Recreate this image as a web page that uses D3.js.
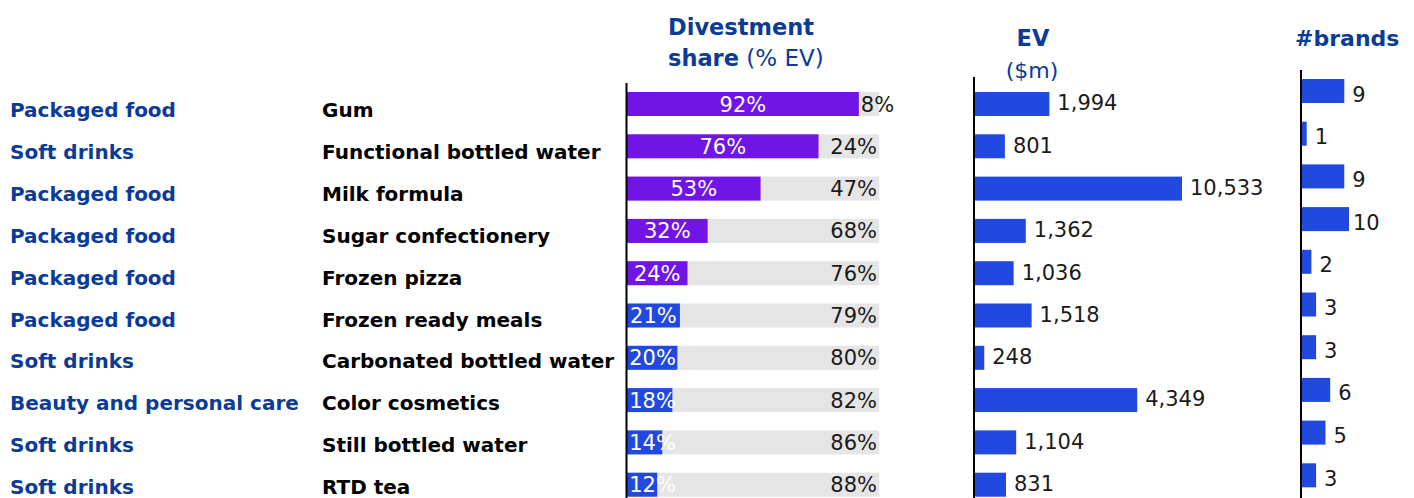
<!DOCTYPE html>
<html>
<head>
<meta charset="utf-8">
<script src="https://cdn.jsdelivr.net/npm/d3@7"></script>
<style>
  html, body { margin: 0; padding: 0; background: #fff; }
  svg { display: block; }
  text { font-family: "DejaVu Sans", "Liberation Sans", sans-serif; }
</style>
</head>
<body>
<svg id="chart" width="1414" height="498"></svg>
<script>
// Segment / product rows
const categories = [
  "Packaged food", "Soft drinks", "Packaged food", "Packaged food", "Packaged food",
  "Packaged food", "Soft drinks", "Beauty and personal care", "Soft drinks", "Soft drinks"
];
const products = [
  "Gum", "Functional bottled water", "Milk formula", "Sugar confectionery", "Frozen pizza",
  "Frozen ready meals", "Carbonated bottled water", "Color cosmetics", "Still bottled water", "RTD tea"
];
// Divestment share of EV (%)
const divestShare = [92, 76, 53, 32, 24, 21, 20, 18, 14, 12];
// Enterprise value ($m)
const evValues = [1994, 801, 10533, 1362, 1036, 1518, 248, 4349, 1104, 831];
// Number of brands
const brandCounts = [9, 1, 9, 10, 2, 3, 3, 6, 5, 3];

const PURPLE = "#7114e6";
const BLUE = "#2149e0";
const NAVY = "#0b3b96";
const GREY = "#e5e5e5";
const INK = "#1a1a1a";

const svg = d3.select("#chart");
const rows = d3.range(products.length);

// Row positions
const yLabel = d3.scalePoint().domain(rows).range([117, 117 + 9 * 41.9]);
const yBar = d3.scalePoint().domain(rows).range([104, 104 + 9 * 42.3]);
const yBrand = d3.scalePoint().domain(rows).range([91, 91 + 9 * 42.7]);
const barH = 24;

// ---- Row labels ----
svg.append("g").selectAll("text").data(rows).join("text")
  .attr("x", 10).attr("y", i => yLabel(i))
  .attr("fill", NAVY).attr("font-weight", "bold").attr("font-size", 20)
  .text(i => categories[i]);

svg.append("g").selectAll("text").data(rows).join("text")
  .attr("x", 322).attr("y", i => yLabel(i))
  .attr("fill", "#000").attr("font-weight", "bold").attr("font-size", 20)
  .text(i => products[i]);

// ---- Headers ----
const h1 = svg.append("g").attr("fill", NAVY).attr("font-size", 22.5);
h1.append("text").attr("x", 668).attr("y", 35).attr("font-weight", "bold").text("Divestment");
const h1b = h1.append("text").attr("x", 668).attr("y", 66);
h1b.append("tspan").attr("font-weight", "bold").text("share");
h1b.append("tspan").attr("font-weight", "normal").attr("font-size", 23).text(" (% EV)");

const h2 = svg.append("g").attr("fill", NAVY).attr("text-anchor", "middle");
h2.append("text").attr("x", 1033).attr("y", 46).attr("font-size", 22.5).attr("font-weight", "bold").text("EV");
h2.append("text").attr("x", 1032).attr("y", 78).attr("font-size", 22).text("($m)");

svg.append("text").attr("x", 1295).attr("y", 46).attr("fill", NAVY)
  .attr("font-size", 22).attr("font-weight", "bold").text("#brands");

// ---- Divestment share panel ----
const xShare = d3.scaleLinear().domain([0, 100]).range([627, 879]);
const gShare = svg.append("g");

gShare.selectAll("rect.bg").data(rows).join("rect").attr("class", "bg")
  .attr("x", xShare(0)).attr("y", i => yBar(i) - barH / 2)
  .attr("width", xShare(100) - xShare(0)).attr("height", barH)
  .attr("fill", GREY);

gShare.selectAll("rect.fg").data(rows).join("rect").attr("class", "fg")
  .attr("x", xShare(0)).attr("y", i => yBar(i) - barH / 2)
  .attr("width", i => xShare(divestShare[i]) - xShare(0)).attr("height", barH)
  .attr("fill", i => i < 5 ? PURPLE : BLUE);

const labelW = 47;
gShare.selectAll("text.in").data(rows).join("text").attr("class", "in")
  .attr("x", i => Math.max((xShare(0) + xShare(divestShare[i])) / 2, xShare(0) + 2 + labelW / 2))
  .attr("y", i => yBar(i)).attr("dy", "0.36em")
  .attr("text-anchor", "middle").attr("font-size", 21).attr("fill", "#fff")
  .text(i => divestShare[i] + "%");

gShare.selectAll("text.out").data(rows).join("text").attr("class", "out")
  .each(function (i) {
    const rest = 100 - divestShare[i];
    const end = xShare(divestShare[i]);
    const t = d3.select(this).attr("font-size", 21).attr("fill", INK)
      .attr("y", yBar(i)).attr("dy", "0.36em").text(rest + "%");
    const w = this.getComputedTextLength();
    if (xShare(100) - 2 - w < end + 2) {
      t.attr("x", end + 2).attr("text-anchor", "start");
    } else {
      t.attr("x", xShare(100) - 2).attr("text-anchor", "end");
    }
  });

svg.append("line").attr("x1", 626.5).attr("x2", 626.5).attr("y1", 83).attr("y2", 498)
  .attr("stroke", "#000").attr("stroke-width", 2);

// ---- EV panel (very large values are capped at the panel width) ----
const xEV = d3.scaleLinear().domain([0, 5550]).range([975, 1182]).clamp(true);
const gEV = svg.append("g");
gEV.selectAll("rect").data(rows).join("rect")
  .attr("x", xEV(0)).attr("y", i => yBar(i) - barH / 2)
  .attr("width", i => xEV(evValues[i]) - xEV(0)).attr("height", barH)
  .attr("fill", BLUE);
gEV.selectAll("text").data(rows).join("text")
  .attr("x", i => xEV(evValues[i]) + 8).attr("y", i => yBar(i)).attr("dy", "0.3em")
  .attr("font-size", 21).attr("fill", INK)
  .text(i => d3.format(",")(evValues[i]));
svg.append("line").attr("x1", 974).attr("x2", 974).attr("y1", 77).attr("y2", 498)
  .attr("stroke", "#000").attr("stroke-width", 2);

// ---- Brands panel ----
const xBrand = d3.scaleLinear().domain([0, 10]).range([1302, 1349]);
const gBrand = svg.append("g");
gBrand.selectAll("rect").data(rows).join("rect")
  .attr("x", xBrand(0)).attr("y", i => yBrand(i) - barH / 2)
  .attr("width", i => xBrand(brandCounts[i]) - xBrand(0)).attr("height", barH)
  .attr("fill", BLUE);
gBrand.selectAll("text").data(rows).join("text")
  .attr("x", i => xBrand(brandCounts[i]) + (brandCounts[i] >= 10 ? 4 : 8))
  .attr("y", i => yBrand(i) + 3).attr("dy", "0.36em")
  .attr("font-size", 21).attr("fill", INK)
  .text(i => brandCounts[i]);
svg.append("line").attr("x1", 1301).attr("x2", 1301).attr("y1", 70).attr("y2", 498)
  .attr("stroke", "#000").attr("stroke-width", 2);
</script>
</body>
</html>
